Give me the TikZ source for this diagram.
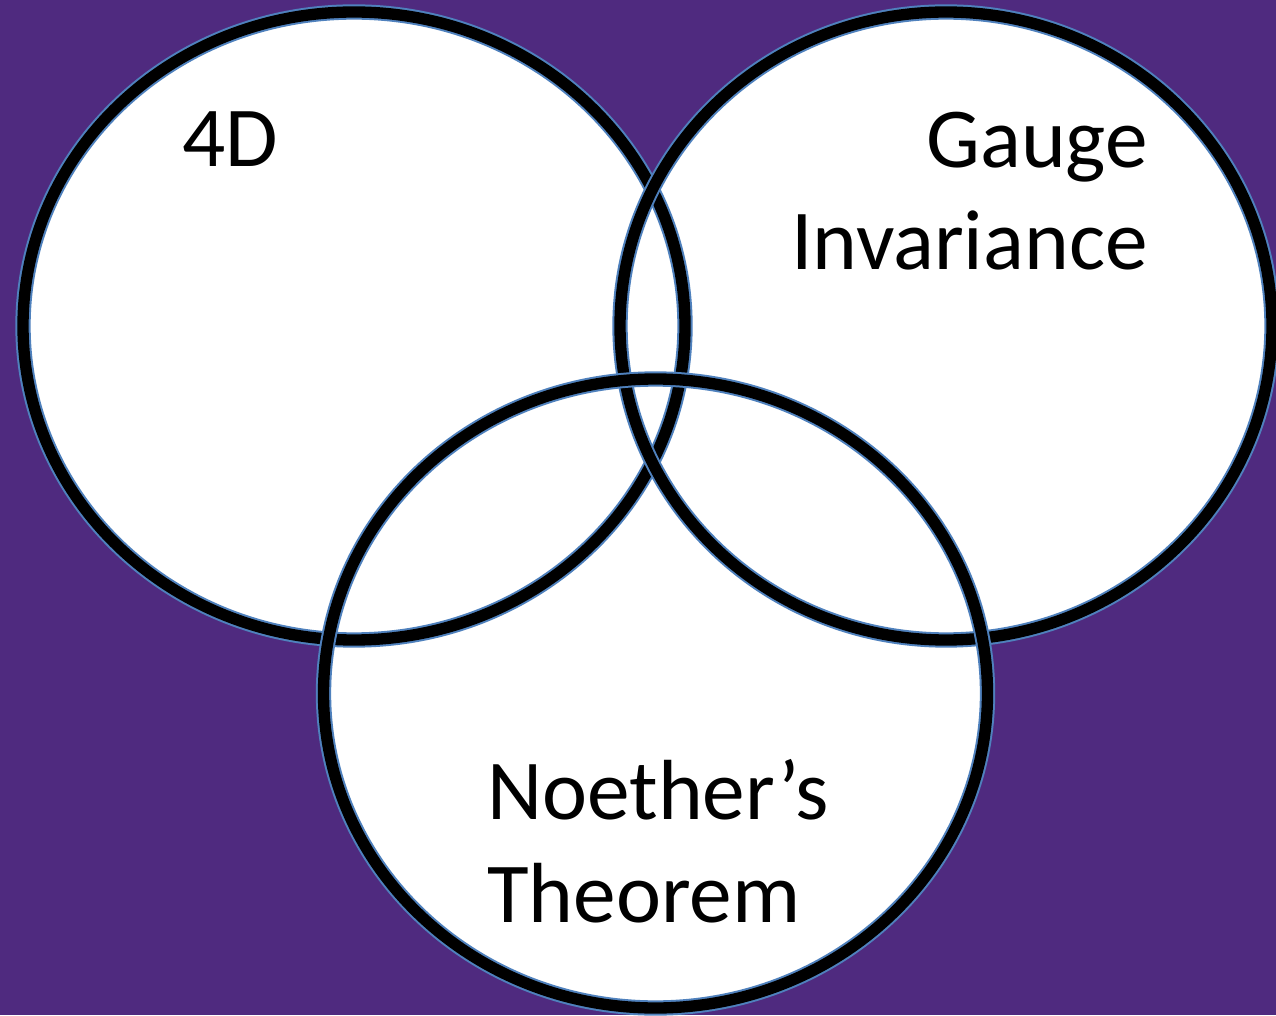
\documentclass[tikz,border=0pt]{standalone}
\usepackage{fontspec}
\setmainfont{Carlito}
\usepackage{xcolor}
\usepackage{tikz}
\usetikzlibrary{positioning}
\definecolor{bgpurple}{HTML}{4F2A7F}
\definecolor{rimblue}{HTML}{4F81BD}

\begin{document}
\begin{tikzpicture}[
    x=0.75pt, y=0.75pt,
    rim/.style={draw=rimblue, line width=11.5pt},
    ring/.style={draw=black, line width=8.5pt},
    label/.style={inner sep=0pt, font=\fontsize{64}{77}\selectfont}
]
    % Background
    \fill[bgpurple] (0,0) rectangle (1276,1015);
    \useasboundingbox (0,0) rectangle (1276,1015);
    \clip (0,0) rectangle (1276,1015);
    % Circle fills first
    \fill[white] (354,689) ellipse [x radius=331, y radius=314];
    \fill[white] (946,689) ellipse [x radius=326, y radius=314];
    \fill[white] (655.5,321.5) ellipse [x radius=332, y radius=314.5];
    % Outlines
    \foreach \cx/\cy/\rx/\ry in {354/689/331/314, 946/689/326/314, 655.5/321.5/332/314.5} {
        \draw[rim] (\cx,\cy) ellipse [x radius=\rx, y radius=\ry];
        \draw[ring] (\cx,\cy) ellipse [x radius=\rx, y radius=\ry];
    }
    % Labels
    \node[label, anchor=base west] (fourd) at (182,848) {4D};
    \node[label, anchor=base east, align=right] (gauge) at (1148,745) {Gauge\\Invariance};
    \node[label, anchor=base west, align=left] (noether) at (487,93) {Noether’s\\Theorem};
\end{tikzpicture}
\end{document}
